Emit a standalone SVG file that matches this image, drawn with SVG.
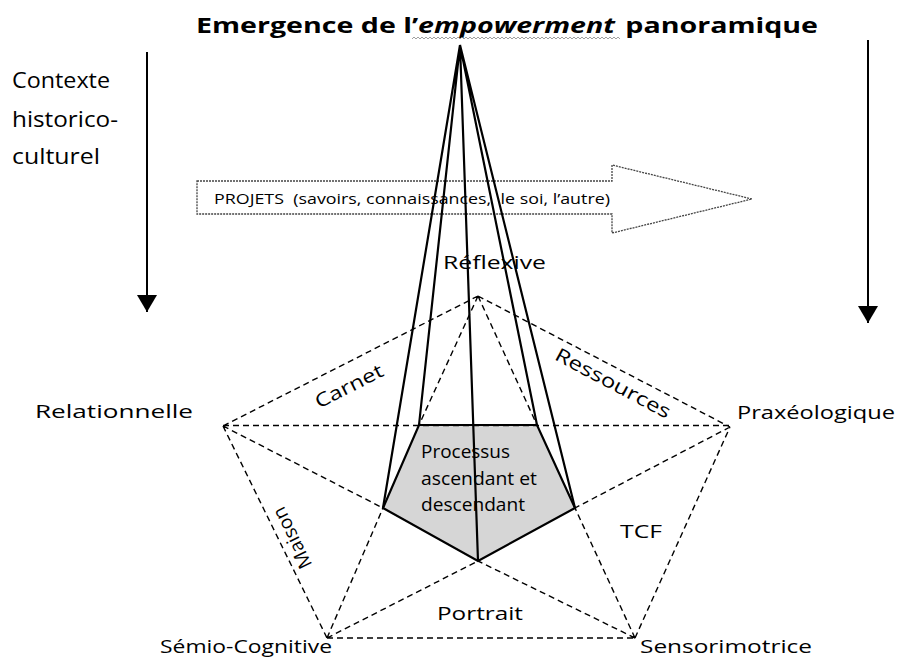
<svg xmlns="http://www.w3.org/2000/svg" width="905" height="657" viewBox="0 0 905 657">
<style>
.t{font-family:"Open Sans","Liberation Sans",sans-serif;fill:#000}
.lb{font-size:19px}
.d{fill:none;stroke:#000;stroke-width:1.4;stroke-dasharray:6 4}
.s{fill:none;stroke:#000;stroke-width:2.2}
.v{fill:none;stroke:#000;stroke-width:2;marker-end:url(#ah)}
</style>
<defs>
<marker id="ah" viewBox="0 0 17 20" refX="17" refY="10" markerWidth="17" markerHeight="20" markerUnits="userSpaceOnUse" orient="auto">
<path d="M0,0 L17,10 L0,20 z" fill="#000"/>
</marker>
<pattern id="wave" x="0" y="0" width="4" height="4" patternUnits="userSpaceOnUse">
<path d="M0,3 L2,1 L4,3" fill="none" stroke="#888" stroke-width="0.8"/>
</pattern>
</defs>
<rect width="905" height="657" fill="#fff"/>

<g id="title">
<text class="t" x="196" y="33" font-size="22" font-weight="bold" textLength="622" lengthAdjust="spacingAndGlyphs">Emergence de l’<tspan font-style="italic">empowerment</tspan><tspan dx="8">panoramique</tspan></text>
<rect x="412" y="35" width="208" height="4" fill="url(#wave)"/>
</g>

<g id="contexte">
<text class="t" font-size="22" x="12" y="88" textLength="98" lengthAdjust="spacingAndGlyphs">Contexte</text>
<text class="t" font-size="22" x="12" y="127" textLength="106" lengthAdjust="spacingAndGlyphs">historico-</text>
<text class="t" font-size="22" x="12" y="164" textLength="88" lengthAdjust="spacingAndGlyphs">culturel</text>
</g>

<g id="projets">
<path d="M197,181 L612,181 L612,165 L752,199 L612,233 L612,214 L197,214 z" fill="#fff" stroke="#444" stroke-width="1.3" stroke-dasharray="2 1"/>
<text class="t" font-size="15" x="214" y="204" textLength="396" lengthAdjust="spacingAndGlyphs" xml:space="preserve">PROJETS  (savoirs, connaissances,  le soi, l’autre)</text>
</g>

<g id="processus">
<polygon points="419,425 537,425 575,508 478,561 383,508" fill="#d6d6d6" stroke="#000" stroke-width="2.2" stroke-linejoin="miter"/>
<text class="t" font-size="18" x="421" y="458" textLength="89" lengthAdjust="spacingAndGlyphs">Processus</text>
<text class="t" font-size="18" x="421" y="485" textLength="116" lengthAdjust="spacingAndGlyphs">ascendant et</text>
<text class="t" font-size="18" x="421" y="511" textLength="104" lengthAdjust="spacingAndGlyphs">descendant</text>
</g>

<g id="connectors">
<path class="d" d="M478,296 L223,426 M478,296 L730,427 M223,426 L327,638 M327,638 L635,638 M635,638 L730,427 M223,425.5 L730,425.5 M223,426 L383,508 M478,296 L419,425 M478,296 L537,425 M730,427 L575,508 M327,638 L383,508 M327,638 L478,561 M635,638 L478,561 M635,638 L575,508"/>
<path class="s" d="M460,45 L419,425 M460,45 L537,425 M460,45 L383,508 M460,45 L575,508 M460,45 L478,561"/>
<line class="v" x1="147" y1="52" x2="147" y2="312"/>
<line class="v" x1="868" y1="40" x2="868" y2="323"/>
</g>

<g id="reflexive"><text class="t lb" x="443" y="269" textLength="103" lengthAdjust="spacingAndGlyphs">Réflexive</text></g>
<g id="relationnelle"><text class="t lb" x="193" y="418" text-anchor="end" textLength="158" lengthAdjust="spacingAndGlyphs">Relationnelle</text></g>
<g id="praxeologique"><text class="t lb" x="737" y="419" textLength="158" lengthAdjust="spacingAndGlyphs">Praxéologique</text></g>
<g id="semio"><text class="t lb" x="160" y="653" textLength="172" lengthAdjust="spacingAndGlyphs">Sémio-Cognitive</text></g>
<g id="sensorimotrice"><text class="t lb" x="640" y="653" textLength="172" lengthAdjust="spacingAndGlyphs">Sensorimotrice</text></g>

<g id="edge-labels">
<text class="t lb" text-anchor="middle" transform="translate(352,392) rotate(-27)" textLength="74" lengthAdjust="spacingAndGlyphs">Carnet</text>
<text class="t lb" text-anchor="middle" transform="translate(610,389) rotate(28)" textLength="128" lengthAdjust="spacingAndGlyphs">Ressources</text>
<text class="t lb" text-anchor="middle" transform="translate(298,535) rotate(244)" textLength="66" lengthAdjust="spacingAndGlyphs">Maison</text>
<text class="t lb" x="620" y="538" textLength="42" lengthAdjust="spacingAndGlyphs">TCF</text>
<text class="t lb" x="437" y="620" textLength="86" lengthAdjust="spacingAndGlyphs">Portrait</text>
</g>
</svg>
